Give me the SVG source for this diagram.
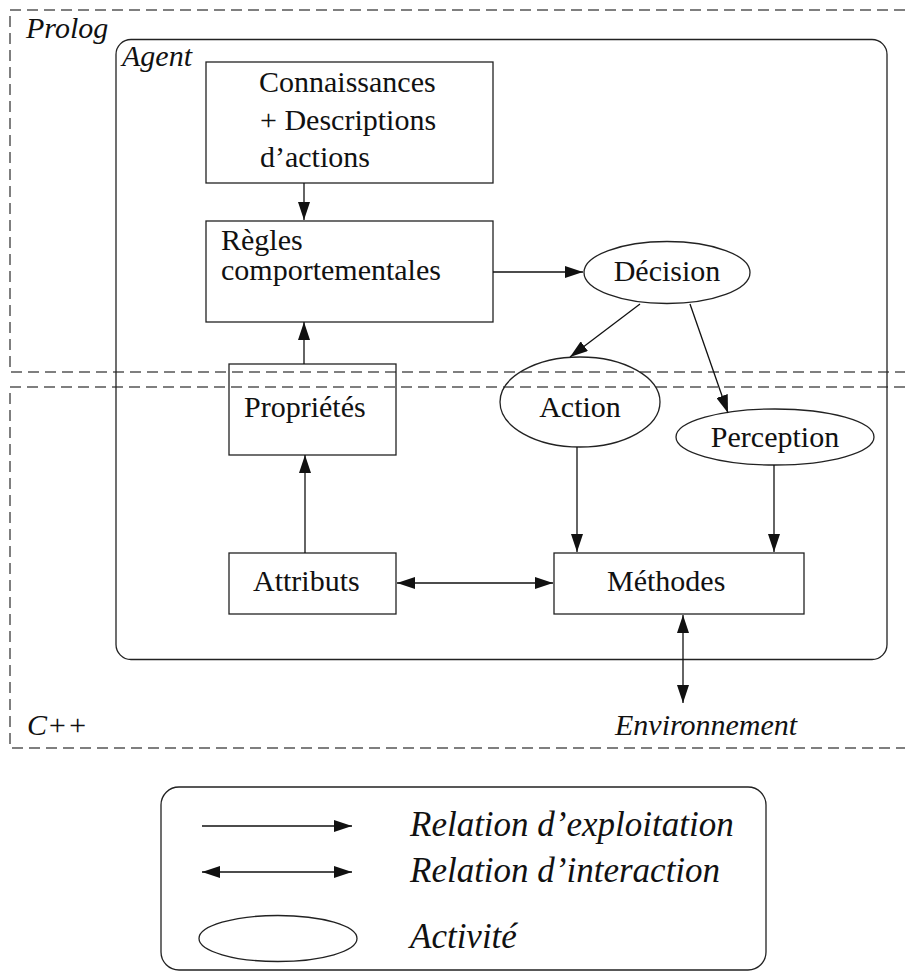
<svg xmlns="http://www.w3.org/2000/svg" width="905" height="972" viewBox="0 0 905 972">
  <style>
    .t { font-family: "Liberation Serif", "Times New Roman", serif; font-size: 30px; fill: #111; }
    .lg { font-size: 35px; }
    .it { font-style: italic; }
    .mid { text-anchor: middle; }
    .zone { fill: none; stroke: #555; stroke-width: 1.5; stroke-dasharray: 11 6; }
    .box { fill: none; stroke: #222; stroke-width: 1.3; }
    .edge { fill: none; stroke: #111; stroke-width: 1.3; }
  </style>
  <defs>
    <marker id="head" viewBox="0 0 18 12" refX="18" refY="6" markerWidth="18" markerHeight="12" markerUnits="userSpaceOnUse" orient="auto-start-reverse">
      <path d="M0,0 L18,6 L0,12 z" fill="#111"/>
    </marker>
  </defs>

  <!-- language zones -->
  <g id="zone-prolog">
    <path class="zone" d="M905,10 H10 V372 H905"/>
    <text class="t it" x="26" y="38">Prolog</text>
  </g>
  <g id="zone-cpp">
    <path class="zone" d="M905,387 H10 V748 H905"/>
    <text class="t it" x="27" y="735">C++</text>
  </g>

  <!-- agent container -->
  <g id="agent">
    <rect class="box" x="116" y="39.5" width="771" height="620" rx="15"/>
    <text class="t it" x="122" y="66">Agent</text>
  </g>

  <g id="connaissances">
    <rect class="box" x="206" y="62" width="287" height="121"/>
    <text class="t" x="259" y="92">Connaissances</text>
    <text class="t" x="260" y="130">+ Descriptions</text>
    <text class="t" x="260" y="167">d’actions</text>
  </g>

  <g id="regles">
    <rect class="box" x="206" y="221" width="287" height="101"/>
    <text class="t" x="221" y="250">Règles</text>
    <text class="t" x="221" y="280">comportementales</text>
  </g>

  <g id="decision">
    <ellipse class="box" cx="667" cy="272.5" rx="83" ry="31"/>
    <text class="t mid" x="667" y="281">Décision</text>
  </g>

  <g id="action">
    <ellipse class="box" cx="580" cy="402" rx="80" ry="45"/>
    <text class="t mid" x="580" y="417">Action</text>
  </g>

  <g id="perception">
    <ellipse class="box" cx="775" cy="437" rx="99" ry="28"/>
    <text class="t mid" x="775" y="447">Perception</text>
  </g>

  <g id="proprietes">
    <rect class="box" x="229" y="364" width="167" height="91"/>
    <text class="t" x="244" y="417">Propriétés</text>
  </g>

  <g id="attributs">
    <rect class="box" x="229" y="553" width="167" height="61"/>
    <text class="t" x="253" y="591">Attributs</text>
  </g>

  <g id="methodes">
    <rect class="box" x="554" y="553" width="250" height="61"/>
    <text class="t" x="607" y="591">Méthodes</text>
  </g>

  <g id="environnement">
    <text class="t it" x="615" y="735">Environnement</text>
  </g>

  <!-- connectors -->
  <g id="connectors">
    <line class="edge" x1="304" y1="183" x2="304" y2="220" marker-end="url(#head)"/>
    <line class="edge" x1="493" y1="272" x2="583" y2="272" marker-end="url(#head)"/>
    <line class="edge" x1="640" y1="304" x2="570" y2="357" marker-end="url(#head)"/>
    <line class="edge" x1="690" y1="304" x2="728" y2="413" marker-end="url(#head)"/>
    <line class="edge" x1="304" y1="364" x2="304" y2="322" marker-end="url(#head)"/>
    <line class="edge" x1="305" y1="553" x2="305" y2="455" marker-end="url(#head)"/>
    <line class="edge" x1="397" y1="583" x2="553" y2="583" marker-start="url(#head)" marker-end="url(#head)"/>
    <line class="edge" x1="577" y1="447" x2="577" y2="552" marker-end="url(#head)"/>
    <line class="edge" x1="774" y1="465" x2="774" y2="552" marker-end="url(#head)"/>
    <line class="edge" x1="683" y1="615" x2="683" y2="703" marker-start="url(#head)" marker-end="url(#head)"/>
  </g>

  <!-- legend -->
  <g id="legend">
    <rect class="box" x="161" y="787" width="605" height="183" rx="18"/>
    <line class="edge" x1="202" y1="826" x2="352" y2="826" marker-end="url(#head)"/>
    <text class="t lg it" x="410" y="836">Relation d’exploitation</text>
    <line class="edge" x1="202" y1="872" x2="352" y2="872" marker-start="url(#head)" marker-end="url(#head)"/>
    <text class="t lg it" x="410" y="882">Relation d’interaction</text>
    <ellipse class="box" cx="278" cy="938.5" rx="79" ry="23"/>
    <text class="t lg it" x="410" y="948">Activité</text>
  </g>
</svg>
